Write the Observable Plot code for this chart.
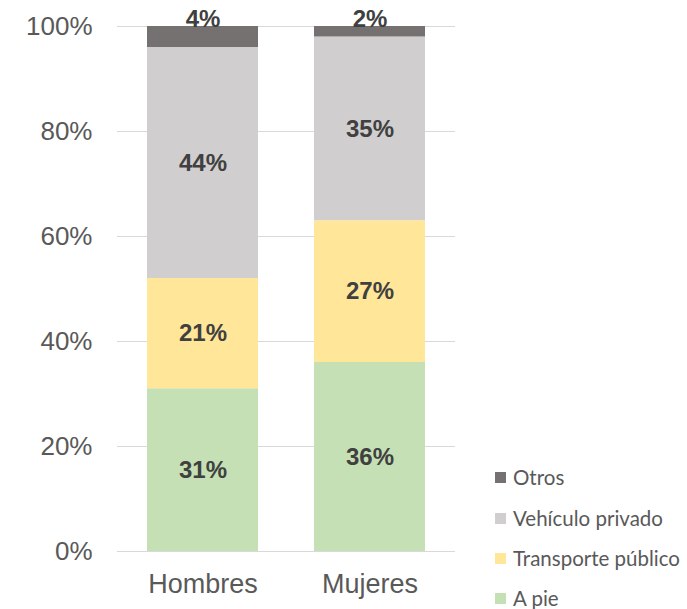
<!DOCTYPE html>
<html>
<head>
<meta charset="utf-8">
<script src="https://cdn.jsdelivr.net/npm/d3@7"></script>
<script src="https://cdn.jsdelivr.net/npm/@observablehq/plot@0.6"></script>
<style>
  html, body { margin: 0; padding: 0; background: #fff; }
  #wrap { position: relative; width: 687px; height: 609px; }
  #legend { position: absolute; left: 495px; top: 0; font-family: "Lato", "Open Sans", sans-serif; font-size: 20.5px; color: #595959; }
  .item { position: absolute; left: 0; display: flex; align-items: center; height: 22px; white-space: nowrap; }
  .sw { width: 11px; height: 11px; margin-right: 7px; flex: none; }
</style>
</head>
<body>
<div id="wrap"></div>
<script>
const categorias = ["Hombres", "Mujeres"];
const modos = ["A pie", "Transporte público", "Vehículo privado", "Otros"];
const hombres = [31, 21, 44, 4];
const mujeres = [36, 27, 35, 2];
const colores = ["#c5e0b4", "#ffe699", "#d0cece", "#767171"];
const yTicks = [0, 20, 40, 60, 80, 100];
const legendOrder = ["Otros", "Vehículo privado", "Transporte público", "A pie"];

const series = {Hombres: hombres, Mujeres: mujeres};
const data = [];
for (const c of categorias) modos.forEach((m, i) => data.push({sexo: c, modo: m, valor: series[c][i]}));

const font = '"Liberation Sans", Arial, sans-serif';

const chart = Plot.plot({
  width: 687,
  height: 609,
  marginLeft: 117,
  marginRight: 232,
  marginTop: 26,
  marginBottom: 58,
  style: {fontFamily: font, background: "#fff"},
  x: {domain: categorias, paddingInner: 0.334, paddingOuter: 0.176, axis: null},
  y: {domain: [0, 100], axis: null},
  color: {domain: modos, range: colores},
  marks: [
    Plot.gridY(yTicks, {stroke: "#d9d9d9", strokeOpacity: 1, strokeWidth: 1}),
    Plot.barY(data, {x: "sexo", y: "valor", fill: "modo"}),
    Plot.text(data, Plot.stackY({
      x: "sexo", y: "valor",
      text: d => d.modo === "Otros" ? null : d.valor + "%",
      fill: "#404040", fontWeight: "bold", fontSize: 24
    })),
    Plot.text(data, Plot.stackY2({
      x: "sexo", y: "valor",
      text: d => d.modo === "Otros" ? d.valor + "%" : null,
      fill: "#404040", fontWeight: "bold", fontSize: 24, dy: -7
    })),
    Plot.axisY(yTicks, {
      tickFormat: d => d + "%", tickSize: 0, tickPadding: 25,
      fontSize: 26, fill: "#595959", label: null
    }),
    Plot.axisX({
      tickSize: 0, tickPadding: 22, fontSize: 27, fill: "#595959", label: null
    })
  ]
});

const wrap = document.getElementById("wrap");
wrap.appendChild(chart);

const legend = document.createElement("div");
legend.id = "legend";
const centers = [477, 518, 558, 598];
legendOrder.forEach((m, i) => {
  const it = document.createElement("div");
  it.className = "item";
  it.style.top = (centers[i] - 11) + "px";
  const sw = document.createElement("span");
  sw.className = "sw";
  sw.style.background = colores[modos.indexOf(m)];
  const tx = document.createElement("span");
  tx.textContent = m;
  it.appendChild(sw);
  it.appendChild(tx);
  legend.appendChild(it);
});
wrap.appendChild(legend);
</script>
</body>
</html>
